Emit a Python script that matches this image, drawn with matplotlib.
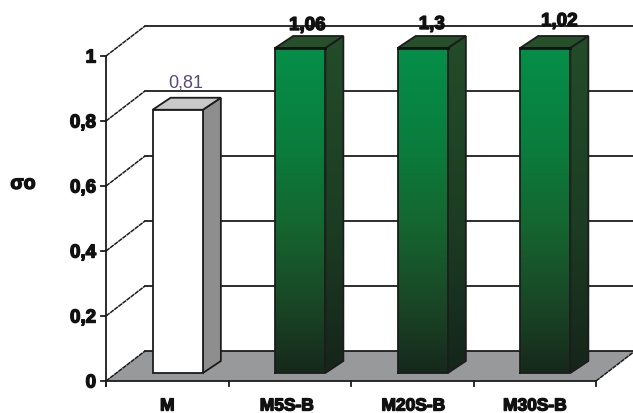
import matplotlib
matplotlib.use('Agg')
import matplotlib.pyplot as plt
from matplotlib.colors import LinearSegmentedColormap
from matplotlib.patches import Polygon
from matplotlib.transforms import Affine2D
import matplotlib.patheffects as pe
import numpy as np

categories = ['M', 'M5S-B', 'M20S-B', 'M30S-B']
values = [0.81, 1.06, 1.3, 1.02]
value_labels = ['0,81', '1,06', '1,3', '1,02']
y_ticks = [0, 0.2, 0.4, 0.6, 0.8, 1]
y_tick_labels = ['0', '0,2', '0,4', '0,6', '0,8', '1']
y_title = 'σo'

W, H = 633, 413
LEFT, RIGHT, BOTTOM, TOP = 106, 596, 381, 56   # plot box in pixels
DX, DY = 39, 30        # depth of the chart box
BAR_DX, BAR_DY = 18, 12
BAR_SHIFT = 10.5       # bars stand a little behind the front edge
BAR_WIDTH = 0.41
INK = '#1c1c1c'

# pixel offsets of the value labels from the top of their bar
label_dx = [8, 7, 9, 14]
label_dy = [18, 14, 15, 18]
# small horizontal nudges of the category labels, in pixels
cat_dx = [0, -3, 1, 0]

front_cmap = LinearSegmentedColormap.from_list(
    'front', [(0, '#058f49'), (0.3, '#0a7d3d'), (0.55, '#15652f'), (0.8, '#1a4526'), (1, '#16291b')])
side_cmap = LinearSegmentedColormap.from_list(
    'side', [(0, '#234c29'), (0.55, '#1c3d23'), (1, '#15251a')])

fig = plt.figure(figsize=(W / 100, H / 100), dpi=100)
ax = fig.add_axes([LEFT / W, 1 - BOTTOM / H, (RIGHT - LEFT) / W, (BOTTOM - TOP) / H])
ax.set_xlim(0, len(categories))
ax.set_ylim(0, 1)
ax.axis('off')


def shifted(dx, dy):
    # data coordinates moved by a pixel offset
    return ax.transData + Affine2D().translate(dx, dy)


def px_x(n):
    return n * len(categories) / (RIGHT - LEFT)


def px_y(n):
    return n / (BOTTOM - TOP)


back = shifted(DX, DY)
n = len(categories)

# floor
floor = Polygon([(0, 0), (n, 0), (n + px_x(DX), px_y(DY)), (px_x(DX), px_y(DY))],
                closed=True, facecolor='#97999b', edgecolor='none', clip_on=False, zorder=1)
ax.add_patch(floor)

# back wall gridlines and the slanted lines on the left wall
for t in y_ticks:
    ax.plot([0, n], [t, t], transform=back, color=INK, lw=1.3, clip_on=False, zorder=2)
    ax.plot([0, px_x(DX)], [t, t + px_y(DY)], color=INK, lw=1.1, ls=(0, (3, 0.4)), clip_on=False, zorder=2)
    ax.plot([-px_x(5), 0], [t, t], color=INK, lw=1.3, clip_on=False, zorder=2)

# front edges of the box
ax.plot([0, 0], [-px_y(5), 1], color=INK, lw=1.3, clip_on=False, zorder=2)
ax.plot([0, n], [0, 0], color=INK, lw=1.3, clip_on=False, zorder=2)
ax.plot([n, n + px_x(DX)], [0, px_y(DY)], color=INK, lw=1.1, ls=(0, (3, 0.4)), clip_on=False, zorder=2)
for i in range(n + 1):
    ax.plot([i, i], [-px_y(5), 0], color=INK, lw=1.3, clip_on=False, zorder=2)

grad = np.linspace(0, 1, 256).reshape(-1, 1)
foot = shifted(BAR_SHIFT, 8)
ymax = ax.get_ylim()[1]

for i, (cat, val, lab) in enumerate(zip(categories, values, value_labels)):
    x0 = i + 0.5 - BAR_WIDTH / 2
    x1 = i + 0.5 + BAR_WIDTH / 2
    top = min(val, ymax)   # the axis stops at 1, taller bars are cut there
    d = px_x(BAR_DX)
    h = px_y(BAR_DY)
    side_pts = [(x1, 0), (x1 + d, h), (x1 + d, top + h), (x1, top)]
    top_pts = [(x0, top), (x1, top), (x1 + d, top + h), (x0 + d, top + h)]
    label_tr = foot + Affine2D().translate(label_dx[i], label_dy[i])

    if i == 0:
        ax.add_patch(Polygon(side_pts, closed=True, transform=foot, facecolor='#8e8e8e',
                             edgecolor=INK, lw=1.3, clip_on=False, zorder=4))
        ax.add_patch(Polygon(top_pts, closed=True, transform=foot, facecolor='#c9c9c9',
                             edgecolor=INK, lw=1.3, clip_on=False, zorder=4))
        ax.bar(i + 0.5, top, BAR_WIDTH, transform=foot, color='white', edgecolor=INK, lw=1.3,
               clip_on=False, zorder=5)
        ax.text(i + 0.5, top, lab, transform=label_tr, ha='center', va='bottom',
                family='Liberation Sans', fontsize=13, color='#5a4a78', zorder=8)
    else:
        side_poly = Polygon(side_pts, closed=True, transform=foot, facecolor='none',
                            edgecolor=INK, lw=1.3, clip_on=False, zorder=5)
        ax.add_patch(side_poly)
        side_im = ax.imshow(grad, cmap=side_cmap, aspect='auto', extent=(x1, x1 + d, 0, top + h),
                            transform=foot, zorder=4)
        side_im.set_clip_box(fig.bbox)
        side_im.set_clip_path(side_poly)
        ax.add_patch(Polygon(top_pts, closed=True, transform=foot, facecolor='#25502a',
                             edgecolor=INK, lw=1.3, clip_on=False, zorder=4))
        ax.imshow(grad, cmap=front_cmap, aspect='auto', extent=(x0, x1, 0, top),
                  transform=foot, zorder=5, clip_on=False)
        ax.plot([x0, x1, x1, x0, x0], [0, 0, top, top, 0], transform=foot, color=INK, lw=1.3,
                clip_on=False, zorder=6)
        ax.plot([x0, x1], [top, top], transform=foot, color='#101510', lw=2, clip_on=False, zorder=6)
        ax.text(i + 0.5, top, lab, transform=label_tr, ha='center', va='bottom',
                family='Liberation Sans', fontsize=13.5, fontweight='bold', color='#111111', zorder=8,
                path_effects=[pe.withStroke(linewidth=1.0, foreground='#111111')])

ax.set_xlim(0, n)
ax.set_ylim(0, 1)

bold = dict(family='Liberation Sans', fontweight='bold', color='#111111',
            path_effects=[pe.withStroke(linewidth=1.0, foreground='#111111')])

for t, lab in zip(y_ticks, y_tick_labels):
    ax.text(-px_x(10), t - px_y(2), lab, ha='right', va='center', fontsize=13.5, clip_on=False, **bold)

for i, cat in enumerate(categories):
    ax.text(i + 0.5 + px_x(cat_dx[i]), -px_y(25), cat, ha='center', va='center', fontsize=12.5,
            clip_on=False, **bold)

ax.text(-px_x(83), 0.605, y_title, ha='center', va='center', fontsize=14, clip_on=False, **bold)

fig.savefig('out.png', dpi=100)
